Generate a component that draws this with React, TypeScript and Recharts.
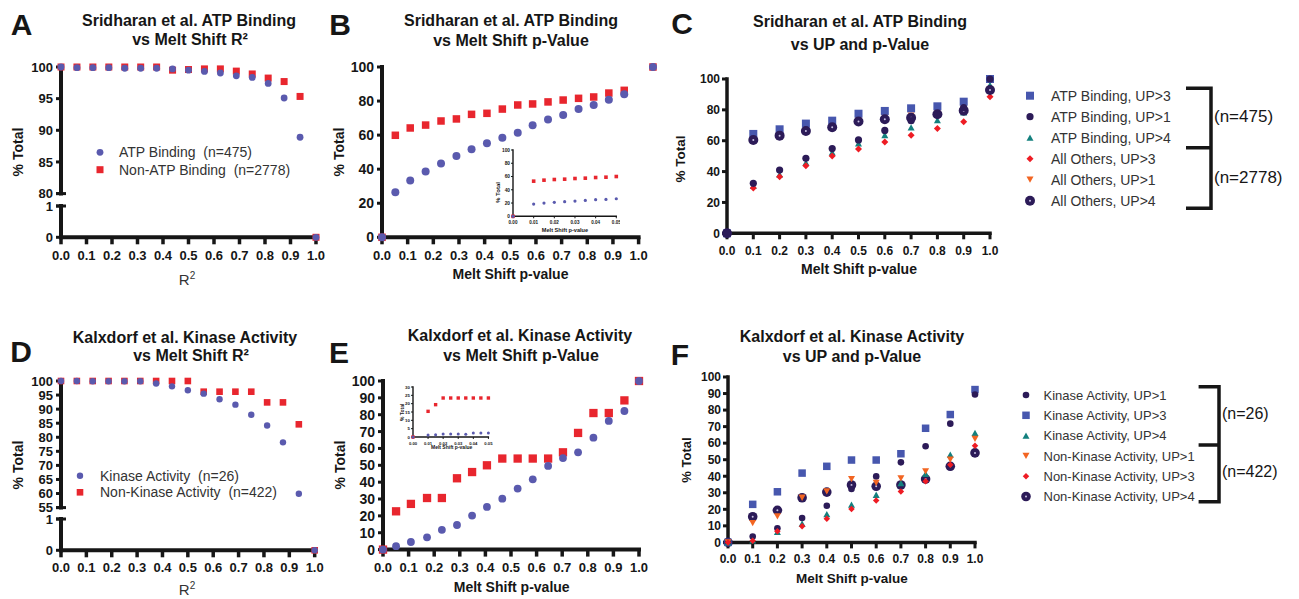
import React from 'react';
import { ScatterChart, Scatter, XAxis, YAxis, ReferenceLine } from 'recharts';

const FONT = "'Liberation Sans', Arial, Helvetica, sans-serif";
const INK = '#161616';
const LEG = '#333333';

const BLUE = '#5A5AAE';
const RED = '#E8262E';
const C_BLUE = '#4757AE';
const C_DARK = '#2C1B58';
const C_TEAL = '#13807E';
const C_RED = '#EE1C24';
const C_ORANGE = '#F26522';
const C_DOT = '#C9C2E4';

// ---------- shared ticks ----------
const unitTicks = [0, 0.1, 0.2, 0.3, 0.4, 0.5, 0.6, 0.7, 0.8, 0.9, 1.0];
const pctTicks20 = [0, 20, 40, 60, 80, 100];
const pctTicks10 = [0, 10, 20, 30, 40, 50, 60, 70, 80, 90, 100];
const insetXTicks = [0, 0.01, 0.02, 0.03, 0.04, 0.05];

// ---------- Panel A ----------
const r2X = [0, 0.0625, 0.125, 0.1875, 0.25, 0.3125, 0.375, 0.4375, 0.5, 0.5625, 0.625, 0.6875, 0.75, 0.8125, 0.875, 0.9375, 1.0];
const atpBindingR2 = [100, 99.9, 99.9, 99.9, 99.8, 99.8, 99.8, 99.7, 99.5, 99.3, 99.05, 98.6, 98.35, 97.4, 95.1, 88.9, 0];
const nonAtpBindingR2 = [100, 100, 100, 100, 100, 100, 100, 99.5, 99.6, 99.7, 99.7, 99.35, 98.9, 98.25, 97.7, 95.35, 0];
const upperTicksA = [80, 85, 90, 95, 100];
const lowerTicks = [0, 1];

// ---------- Panel B ----------
const pXB = [0, 0.052, 0.11, 0.17, 0.23, 0.29, 0.349, 0.409, 0.469, 0.529, 0.587, 0.647, 0.706, 0.766, 0.825, 0.884, 0.944, 1.056];
const atpBindingP = [0, 26.4, 33.3, 38.6, 43.4, 47.7, 51.7, 55.2, 58.5, 61.4, 65.8, 69.1, 71.8, 75.3, 77.7, 80.8, 84.0, 100];
const nonAtpBindingP = [0, 59.9, 64.2, 65.9, 68.3, 69.5, 72.2, 72.8, 75.3, 77.7, 78.3, 79.5, 80.6, 81.6, 82.4, 84.7, 86.3, 100];
const insetXB = [0, 0.01, 0.015, 0.02, 0.025, 0.03, 0.035, 0.04, 0.045, 0.05];
const atpInsetB = [0, 18.5, 20, 21, 22, 23, 24, 25, 25.5, 26.5];
const nonAtpInsetB = [0, 53, 54.5, 55.5, 56, 57, 57.5, 58.5, 59, 60];

// ---------- Panel C ----------
const upX = [0, 0.1, 0.2, 0.3, 0.4, 0.5, 0.6, 0.7, 0.8, 0.9, 1.0];
const atpUp3 = [0, 64.4, 67.4, 71.1, 73.0, 77.5, 79.3, 81.0, 82.3, 85.3, 100];
const atpUp1 = [0, 32.4, 41.0, 48.6, 54.9, 60.5, 66.7, 73.0, 77.0, 81.5, 100];
const atpUp4 = [0, 30.7, 38.2, 45.8, 52.5, 58.3, 63.7, 68.7, 73.4, 78.4, 96.1];
const othersUp3 = [0, 29.4, 36.7, 43.8, 50.1, 54.6, 59.2, 63.5, 68.0, 72.3, 88.5];
const othersUp1 = [0, 61.5, 64.3, 67.5, 70.0, 73.5, 75.2, 76.2, 78.2, 80.5, 93.5];
const othersUp4 = [0, 60.5, 63.3, 66.3, 68.7, 72.4, 73.9, 74.9, 77.1, 79.5, 92.9];
const legendC = ['ATP Binding, UP>3', 'ATP Binding, UP>1', 'ATP Binding, UP>4', 'All Others, UP>3', 'All Others, UP>1', 'All Others, UP>4'];

// ---------- Panel D ----------
const kinaseR2 = [100, 100, 99.9, 99.9, 99.9, 99.9, 99.1, 98.1, 96.7, 95.5, 93.5, 91.6, 88.0, 84.2, 78.2, 59.9, 0];
const nonKinaseR2 = [100, 100, 100, 100, 100, 100, 100, 100, 100, 96.2, 96.2, 96.2, 96.2, 92.4, 92.4, 84.6, 0];
const upperTicksD = [55, 60, 65, 70, 75, 80, 85, 90, 95, 100];

// ---------- Panel E ----------
const pXE = [0, 0.051, 0.109, 0.172, 0.23, 0.289, 0.348, 0.406, 0.466, 0.526, 0.585, 0.645, 0.703, 0.762, 0.822, 0.882, 0.943, 1.0];
const kinaseP = [0, 2.0, 4.5, 7.3, 11.7, 14.6, 20.2, 25.3, 30.2, 36.2, 41.7, 49.6, 54.3, 57.7, 66.4, 76.3, 82.2, 100];
const nonKinaseP = [0, 22.7, 27.1, 30.6, 30.6, 42.3, 46.0, 50.0, 54.0, 54.0, 54.0, 54.0, 57.7, 69.2, 81.0, 81.0, 88.5, 100];
const insetXE = [0, 0.01, 0.015, 0.02, 0.025, 0.03, 0.035, 0.04, 0.045, 0.05];
const kinaseInsetE = [0, 1.2, 1.4, 1.8, 1.8, 1.8, 1.6, 2.4, 2.4, 2.4];
const nonKinaseInsetE = [0, 15.4, 19.4, 23.4, 23.4, 23.4, 23.4, 23.4, 23.4, 23.4];
const insetYTicksE = [0, 5, 10, 15, 20, 25, 30];

// ---------- Panel F ----------
const kinUp1 = [0, 3.6, 8.5, 14.7, 22.2, 32.3, 39.9, 48.4, 58.1, 71.8, 89.4];
const kinUp3 = [0, 23.0, 30.6, 41.9, 46.0, 49.8, 49.8, 53.6, 69.0, 77.3, 92.4];
const kinUp4 = [0, 1.2, 6.3, 11.3, 17.1, 22.8, 28.8, 35.9, 41.5, 53.1, 66.2];
const nonKinUp1 = [0, 11.7, 15.7, 27.0, 30.8, 38.3, 36.0, 38.7, 42.9, 50.0, 62.6];
const nonKinUp3 = [0, 1.0, 6.7, 9.7, 14.3, 20.2, 25.4, 30.8, 36.9, 47.0, 58.5];
const nonKinUp4 = [0, 15.5, 19.4, 27.0, 30.4, 34.7, 33.9, 34.7, 38.3, 46.0, 54.1];
const legendF = ['Kinase Activity, UP>1', 'Kinase Activity, UP>3', 'Kinase Activity, UP>4', 'Non-Kinase Activity, UP>1', 'Non-Kinase Activity, UP>3', 'Non-Kinase Activity, UP>4'];

// ---------- helpers ----------
type Pt = { x: number; y: number };
const zip = (xs: number[], ys: number[]): Pt[] => xs.map((x, i) => ({ x, y: ys[i] }));
const above = (pts: Pt[], lo: number) => pts.filter((p) => p.y >= lo);
const below = (pts: Pt[], hi: number) => pts.filter((p) => p.y <= hi);

const circle = (r: number, fill: string) => (p: any) => <circle cx={p.cx} cy={p.cy} r={r} fill={fill} />;
const square = (s: number, fill: string) => (p: any) => (
  <rect x={p.cx - s / 2} y={p.cy - s / 2} width={s} height={s} fill={fill} />
);
const triangle = (s: number, fill: string, down = false) => (p: any) => {
  const h = s * 0.9;
  const pts = down
    ? `${p.cx - s / 2},${p.cy - h / 2} ${p.cx + s / 2},${p.cy - h / 2} ${p.cx},${p.cy + h / 2}`
    : `${p.cx - s / 2},${p.cy + h / 2} ${p.cx + s / 2},${p.cy + h / 2} ${p.cx},${p.cy - h / 2}`;
  return <polygon points={pts} fill={fill} />;
};
const diamond = (s: number, fill: string) => (p: any) => (
  <polygon
    points={`${p.cx},${p.cy - s / 2} ${p.cx + s / 2},${p.cy} ${p.cx},${p.cy + s / 2} ${p.cx - s / 2},${p.cy}`}
    fill={fill}
  />
);
const dotCircle = (r: number, fill: string) => (p: any) => (
  <g>
    <circle cx={p.cx} cy={p.cy} r={r} fill={fill} />
    <circle cx={p.cx} cy={p.cy} r={1} fill={C_DOT} />
  </g>
);

const yTick = (size: number, gap: number, rgap: number, caps: number[] = [], capW = 3) => (p: any) => {
  const v = p.payload.value;
  const ax = p.x + gap;
  return (
    <g>
      {caps.includes(v) && <line x1={ax - 5} x2={ax + 5} y1={p.y} y2={p.y} stroke={INK} strokeWidth={capW} />}
      <text x={ax - rgap} y={p.y} dy={size * 0.36} textAnchor="end" fontSize={size} fontWeight={700} fontFamily={FONT} fill={INK}>
        {v}
      </text>
    </g>
  );
};
const xTick = (size: number, gap: number, d: number, digits = 1) => (p: any) => (
  <text x={p.x} y={p.y - gap + d} dy={size * 0.36} textAnchor="middle" fontSize={size} fontWeight={700} fontFamily={FONT} fill={INK}>
    {Number(p.payload.value).toFixed(digits)}
  </text>
);

const axisLine = (w: number) => ({ stroke: INK, strokeWidth: w, strokeLinecap: 'square' as const });
const tickLine = (w: number) => ({ stroke: INK, strokeWidth: w });

function Frame(props: {
  x0: number; x1: number; y0: number; y1: number; yw: number; xh: number;
  ml?: number; mt?: number; mr?: number; mb?: number; children: React.ReactNode;
}) {
  const { x0, x1, y0, y1, yw, xh, ml = 4, mt = 8, mr = 10, mb = 2, children } = props;
  const width = x1 - x0 + yw + ml + mr;
  const height = y1 - y0 + mt + xh + mb;
  return (
    <div style={{ position: 'absolute', left: x0 - yw - ml, top: y0 - mt }}>
      <ScatterChart width={width} height={height} margin={{ top: mt, right: mr, bottom: mb, left: ml }}>
        {children}
      </ScatterChart>
    </div>
  );
}

const T = (p: {
  x: number; y: number; s: number; b?: boolean; a?: 'start' | 'middle' | 'end'; rot?: boolean; c?: string; children: React.ReactNode;
}) => (
  <text
    x={p.x}
    y={p.y}
    dy={p.s * 0.36}
    fontSize={p.s}
    fontWeight={p.b ? 700 : 400}
    fontFamily={FONT}
    fill={p.c || INK}
    textAnchor={p.a || 'middle'}
    transform={p.rot ? `rotate(-90 ${p.x} ${p.y})` : undefined}
    style={{ whiteSpace: 'pre' }}
  >
    {p.children}
  </text>
);

const shapesC = [
  square(8, C_BLUE),
  circle(3.6, C_DARK),
  triangle(7, C_TEAL),
  diamond(7, C_RED),
  triangle(7, C_ORANGE, true),
  dotCircle(5, C_DARK),
];
const shapesF = [
  circle(3.3, C_DARK),
  square(7.5, C_BLUE),
  triangle(7, C_TEAL),
  triangle(7, C_ORANGE, true),
  diamond(6.5, C_RED),
  dotCircle(4.8, C_DARK),
];

export default function App() {
  const aUpperRed = above(zip(r2X, nonAtpBindingR2), 80);
  const aUpperBlue = above(zip(r2X, atpBindingR2), 80);
  const aLowerRed = below(zip(r2X, nonAtpBindingR2), 1);
  const aLowerBlue = below(zip(r2X, atpBindingR2), 1);
  const dUpperRed = above(zip(r2X, nonKinaseR2), 55);
  const dUpperBlue = above(zip(r2X, kinaseR2), 55);
  const dLowerRed = below(zip(r2X, nonKinaseR2), 1);
  const dLowerBlue = below(zip(r2X, kinaseR2), 1);

  const mainY = (ticks: number[], domain: [number, number], caps: number[] = [], fs = 14) => (
    <YAxis
      type="number"
      dataKey="y"
      domain={domain}
      ticks={ticks}
      interval={0}
      width={48}
      axisLine={axisLine(4)}
      tickLine={tickLine(3)}
      tickSize={5}
      tickMargin={3}
      tick={yTick(fs, 8, 8, caps)}
    />
  );
  const mainX = (domain: [number, number], d: number, showLine = true) => (
    <XAxis
      type="number"
      dataKey="x"
      domain={domain}
      ticks={unitTicks}
      interval={0}
      height={30}
      axisLine={showLine ? axisLine(4) : false}
      tickLine={tickLine(3.5)}
      tickSize={7}
      tickMargin={4}
      tick={xTick(13, 11, d)}
    />
  );
  const hiddenX = <XAxis type="number" dataKey="x" domain={[0, 1]} hide />;

  const upY = (ticks: number[]) => (
    <YAxis
      type="number"
      dataKey="y"
      domain={[0, 100]}
      ticks={ticks}
      interval={0}
      width={40}
      axisLine={axisLine(3.5)}
      tickLine={tickLine(3)}
      tickSize={5}
      tickMargin={2}
      tick={yTick(12, 7, 7)}
    />
  );
  const upXAxis = (d: number) => (
    <XAxis
      type="number"
      dataKey="x"
      domain={[0, 1]}
      ticks={unitTicks}
      interval={0}
      height={28}
      axisLine={axisLine(3.5)}
      tickLine={tickLine(3)}
      tickSize={6}
      tickMargin={3}
      tick={xTick(12, 9, d)}
    />
  );

  const insetY = (ticks: number[], domain: [number, number], fs: number) => (
    <YAxis
      type="number"
      dataKey="y"
      domain={domain}
      ticks={ticks}
      interval={0}
      width={14}
      axisLine={axisLine(1.4)}
      tickLine={tickLine(1)}
      tickSize={2}
      tickMargin={1}
      tick={yTick(fs, 3, 3, [], 1)}
    />
  );
  const insetX = (fs: number) => (
    <XAxis
      type="number"
      dataKey="x"
      domain={[0, 0.05]}
      ticks={insetXTicks}
      interval={0}
      height={10}
      axisLine={axisLine(1.4)}
      tickLine={tickLine(1)}
      tickSize={2}
      tickMargin={1}
      tick={xTick(fs, 3, 6.5, 2)}
    />
  );

  return (
    <div style={{ position: 'absolute', left: 0, top: 0, width: 1299, height: 599, background: '#fff', overflow: 'hidden' }}>
      <svg width={1299} height={599} style={{ position: 'absolute', left: 0, top: 0 }}>
        {/* panel letters */}
        <T x={21.5} y={24} s={30} b>A</T>
        <T x={340} y={24} s={30} b>B</T>
        <T x={682} y={23} s={30} b>C</T>
        <T x={21} y={351} s={30} b>D</T>
        <T x={339} y={352} s={30} b>E</T>
        <T x={680} y={354} s={30} b>F</T>

        {/* titles */}
        <T x={189} y={20.7} s={16} b>Sridharan et al. ATP Binding</T>
        <T x={190} y={39.5} s={16} b>vs Melt Shift R²</T>
        <T x={511} y={20.7} s={16} b>Sridharan et al. ATP Binding</T>
        <T x={511} y={40} s={16} b>vs Melt Shift p-Value</T>
        <T x={860} y={21} s={16} b>Sridharan et al. ATP Binding</T>
        <T x={860} y={44.3} s={16} b>vs UP and p-Value</T>
        <T x={185} y={337.5} s={16} b>Kalxdorf et al. Kinase Activity</T>
        <T x={191} y={355} s={16} b>vs Melt Shift R²</T>
        <T x={520} y={335} s={16} b>Kalxdorf et al. Kinase Activity</T>
        <T x={521} y={355} s={16} b>vs Melt Shift p-Value</T>
        <T x={852} y={336.7} s={16} b>Kalxdorf et al. Kinase Activity</T>
        <T x={852} y={356.7} s={16} b>vs UP and p-Value</T>

        {/* axis titles */}
        <T x={18} y={152} s={14} b rot>% Total</T>
        <T x={339} y={152} s={14} b rot>% Total</T>
        <T x={680} y={159} s={13.5} b rot>% Total</T>
        <T x={18} y={465} s={14} b rot>% Total</T>
        <T x={340} y={465} s={14} b rot>% Total</T>
        <T x={686} y={460} s={13} b rot>% Total</T>
        <text x={187} y={285} fontSize={15} fontFamily={FONT} fill={LEG} textAnchor="middle">
          R<tspan dy={-6} fontSize={10}>2</tspan>
        </text>
        <text x={187} y={595} fontSize={15} fontFamily={FONT} fill={LEG} textAnchor="middle">
          R<tspan dy={-6} fontSize={10}>2</tspan>
        </text>
        <T x={510.5} y={274} s={14} b>Melt Shift p-value</T>
        <T x={511.7} y={586.7} s={14} b>Melt Shift p-value</T>
        <T x={859} y={269} s={14} b>Melt Shift p-value</T>
        <T x={852} y={578} s={13.5} b>Melt Shift p-value</T>

        {/* inset titles */}
        <T x={498} y={192.5} s={6} b rot>% Total</T>
        <T x={565} y={230} s={5.6} b>Melt Shift p-value</T>
        <T x={402.7} y={412.3} s={5} b rot>% Total</T>
        <T x={451.7} y={447.3} s={5} b>Melt Shift p-value</T>

        {/* legends A and D */}
        {circle(3.4, BLUE)({ cx: 100, cy: 152.3 })}
        <T x={119} y={152.3} s={14} a="start" c={LEG}>{'ATP Binding  (n=475)'}</T>
        {square(7, RED)({ cx: 100, cy: 169.7 })}
        <T x={119} y={169.7} s={14} a="start" c={LEG}>{'Non-ATP Binding  (n=2778)'}</T>
        {circle(3.2, BLUE)({ cx: 80, cy: 475.7 })}
        <T x={100} y={475.7} s={14} a="start" c={LEG}>{'Kinase Activity  (n=26)'}</T>
        {square(6.6, RED)({ cx: 80, cy: 492.3 })}
        <T x={100} y={492.3} s={14} a="start" c={LEG}>{'Non-Kinase Activity  (n=422)'}</T>

        {/* legend C */}
        {legendC.map((name, i) => {
          const cy = 95.7 + i * 21;
          return (
            <g key={name}>
              {shapesC[i]({ cx: 1030, cy })}
              <T x={1051} y={cy} s={14} a="start" c={LEG}>{name}</T>
            </g>
          );
        })}
        <path d="M1186 88.3 H1211 V208.3 H1186 M1186 147.7 H1211" stroke={INK} strokeWidth={3.5} fill="none" />
        <T x={1214} y={116} s={17} a="start" c={INK}>(n=475)</T>
        <T x={1214} y={176.7} s={17} a="start" c={INK}>(n=2778)</T>

        {/* legend F */}
        {legendF.map((name, i) => {
          const cy = 395 + i * 20.3;
          return (
            <g key={name}>
              {shapesF[i]({ cx: 1026, cy })}
              <T x={1043.5} y={cy} s={13} a="start" c={LEG}>{name}</T>
            </g>
          );
        })}
        <path d="M1198.6 386.7 H1219 V501.7 H1198.6 M1198.6 445 H1219" stroke={INK} strokeWidth={3.5} fill="none" />
        <T x={1222} y={413.3} s={16} a="start" c={INK}>(n=26)</T>
        <T x={1222} y={471.7} s={16} a="start" c={INK}>(n=422)</T>
      </svg>

      {/* ---------- Panel A ---------- */}
      <Frame x0={61} x1={316} y0={66.7} y1={193.3} yw={48} xh={0} mb={12}>
        {hiddenX}
        {mainY(upperTicksA, [80, 100], [80], 13)}
        <Scatter data={aUpperRed} shape={square(7, RED)} isAnimationActive={false} />
        <Scatter data={aUpperBlue} shape={circle(3.4, BLUE)} isAnimationActive={false} />
      </Frame>
      <Frame x0={61} x1={316} y0={205.7} y1={237} yw={48} xh={30}>
        {mainX([0, 1], 18)}
        {mainY(lowerTicks, [0, 1], [1], 13)}
        <Scatter data={aLowerRed} shape={square(7, RED)} isAnimationActive={false} />
        <Scatter data={aLowerBlue} shape={circle(3.4, BLUE)} isAnimationActive={false} />
      </Frame>

      {/* ---------- Panel B ---------- */}
      <Frame x0={381.7} x1={653.7} y0={66.7} y1={237} yw={48} xh={30}>
        {mainX([0, 1.06], 18, false)}
        {mainY(pctTicks20, [0, 100])}
        <ReferenceLine
          segment={[{ x: 0, y: 0 }, { x: 1, y: 0 }]}
          stroke={INK}
          strokeWidth={4}
          strokeLinecap="square"
        />
        <Scatter data={zip(pXB, nonAtpBindingP)} shape={square(7.5, RED)} isAnimationActive={false} />
        <Scatter data={zip(pXB, atpBindingP)} shape={circle(4, BLUE)} isAnimationActive={false} />
      </Frame>
      <Frame x0={512.7} x1={616} y0={149.7} y1={216} yw={14} xh={10} ml={2} mt={4} mr={4} mb={1}>
        {insetX(4.6)}
        {insetY(pctTicks20, [0, 100], 4.8)}
        <Scatter data={zip(insetXB, nonAtpInsetB)} shape={square(3.6, RED)} isAnimationActive={false} />
        <Scatter data={zip(insetXB, atpInsetB)} shape={circle(1.6, BLUE)} isAnimationActive={false} />
      </Frame>

      {/* ---------- Panel C ---------- */}
      <Frame x0={727} x1={990} y0={79} y1={233.3} yw={40} xh={28}>
        {upXAxis(17.7)}
        {upY(pctTicks20)}
        <Scatter data={zip(upX, othersUp1)} shape={shapesC[4]} isAnimationActive={false} />
        <Scatter data={zip(upX, atpUp4)} shape={shapesC[2]} isAnimationActive={false} />
        <Scatter data={zip(upX, othersUp3)} shape={shapesC[3]} isAnimationActive={false} />
        <Scatter data={zip(upX, atpUp3)} shape={shapesC[0]} isAnimationActive={false} />
        <Scatter data={zip(upX, othersUp4)} shape={shapesC[5]} isAnimationActive={false} />
        <Scatter data={zip(upX, atpUp1)} shape={shapesC[1]} isAnimationActive={false} />
      </Frame>

      {/* ---------- Panel D ---------- */}
      <Frame x0={61} x1={314.7} y0={380.7} y1={507.3} yw={48} xh={0} mb={12}>
        {hiddenX}
        {mainY(upperTicksD, [55, 100], [55], 13)}
        <Scatter data={dUpperRed} shape={square(6.6, RED)} isAnimationActive={false} />
        <Scatter data={dUpperBlue} shape={circle(3.2, BLUE)} isAnimationActive={false} />
      </Frame>
      <Frame x0={61} x1={314.7} y0={518.7} y1={550} yw={48} xh={30}>
        {mainX([0, 1], 16.7)}
        {mainY(lowerTicks, [0, 1], [1], 13)}
        <Scatter data={dLowerRed} shape={square(6.6, RED)} isAnimationActive={false} />
        <Scatter data={dLowerBlue} shape={circle(3.2, BLUE)} isAnimationActive={false} />
      </Frame>

      {/* ---------- Panel E ---------- */}
      <Frame x0={382.7} x1={638.7} y0={380.7} y1={549.3} yw={48} xh={30}>
        {mainX([0, 1], 18)}
        {mainY(pctTicks10, [0, 100])}
        <Scatter data={zip(pXE, nonKinaseP)} shape={square(8.3, RED)} isAnimationActive={false} />
        <Scatter data={zip(pXE, kinaseP)} shape={circle(3.9, BLUE)} isAnimationActive={false} />
      </Frame>
      <Frame x0={413.3} x1={488.7} y0={387.3} y1={437.3} yw={14} xh={10} ml={2} mt={4} mr={4} mb={1}>
        {insetX(4.2)}
        {insetY(insetYTicksE, [0, 30], 4.4)}
        <Scatter data={zip(insetXE, nonKinaseInsetE)} shape={square(3.4, RED)} isAnimationActive={false} />
        <Scatter data={zip(insetXE, kinaseInsetE)} shape={circle(1.5, BLUE)} isAnimationActive={false} />
      </Frame>

      {/* ---------- Panel F ---------- */}
      <Frame x0={728} x1={975} y0={377.3} y1={542.7} yw={40} xh={28}>
        {upXAxis(16.6)}
        {upY(pctTicks10)}
        <Scatter data={zip(upX, nonKinUp4)} shape={shapesF[5]} isAnimationActive={false} />
        <Scatter data={zip(upX, kinUp3)} shape={shapesF[1]} isAnimationActive={false} />
        <Scatter data={zip(upX, kinUp1)} shape={shapesF[0]} isAnimationActive={false} />
        <Scatter data={zip(upX, kinUp4)} shape={shapesF[2]} isAnimationActive={false} />
        <Scatter data={zip(upX, nonKinUp1)} shape={shapesF[3]} isAnimationActive={false} />
        <Scatter data={zip(upX, nonKinUp3)} shape={shapesF[4]} isAnimationActive={false} />
      </Frame>
    </div>
  );
}
